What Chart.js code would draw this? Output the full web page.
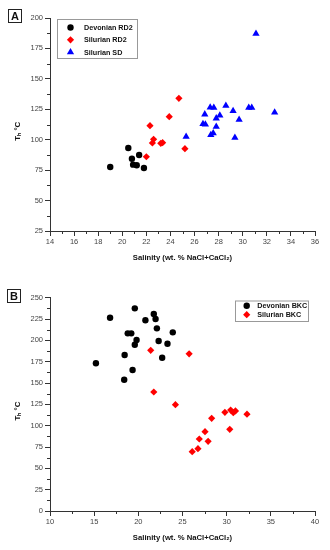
<!DOCTYPE html>
<html><head><meta charset="utf-8">
<script src="https://cdn.jsdelivr.net/npm/chart.js@4.4.0/dist/chart.umd.min.js"></script>
<style>
html,body{margin:0;padding:0;background:#fff;width:330px;height:550px;overflow:hidden}
.wrap{position:absolute;left:0;width:330px}
</style></head><body>
<div class="wrap" style="top:0;height:268px"><canvas id="cA"></canvas></div>
<div class="wrap" style="top:275px;height:275px"><canvas id="cB"></canvas></div>
<script>
// ---- Panel A data ----
const devRD2Sal = [19.0, 20.5, 20.8, 20.9, 21.2, 21.4, 21.8];
const devRD2T   = [77.6, 93.2, 84.4, 79.5, 79.0, 87.4, 76.7];
const silRD2Sal = [24.7, 23.9, 22.3, 22.6, 22.5, 23.2, 23.35, 22.0, 25.2];
const silRD2T   = [134.0, 118.9, 111.5, 100.3, 97.3, 97.0, 97.6, 86.0, 92.6];
const silSDSal  = [31.1, 27.3, 27.6, 28.6, 29.2, 30.5, 30.75, 32.65, 26.85, 28.1, 27.8, 29.7, 26.7, 26.9, 27.8, 27.55, 27.35, 29.35, 25.3];
const silSDT    = [187.1, 126.6, 126.3, 128.0, 123.6, 126.3, 126.3, 122.5, 120.9, 120.0, 117.6, 116.4, 112.9, 112.6, 110.7, 105.3, 103.9, 101.6, 102.5];
const xTicksA = [14, 16, 18, 20, 22, 24, 26, 28, 30, 32, 34, 36];
const yTicksA = [25, 50, 75, 100, 125, 150, 175, 200];
// ---- Panel B data ----
const devBKCSal = [15.2, 16.8, 19.6, 21.75, 21.95, 20.8, 22.1, 23.9, 18.8, 19.2, 19.8, 19.6, 22.3, 23.3, 18.45, 22.7, 19.35, 18.4];
const devBKCT   = [173.1, 226.5, 237.5, 230.9, 225.0, 223.5, 214.1, 209.4, 208.2, 208.2, 200.4, 194.9, 199.2, 196.1, 182.8, 179.7, 165.2, 153.9];
const silBKCSal = [21.4, 25.75, 21.75, 24.2, 29.8, 30.45, 30.75, 31.0, 32.3, 28.3, 30.35, 27.55, 26.9, 27.9, 26.75, 26.1];
const silBKCT   = [188.3, 184.2, 139.5, 124.6, 115.6, 118.3, 115.2, 117.3, 113.5, 108.6, 95.7, 93.0, 84.4, 81.7, 73.0, 69.5];
const xTicksB = [10, 15, 20, 25, 30, 35, 40];
const yTicksB = [0, 25, 50, 75, 100, 125, 150, 175, 200, 225, 250];

const xTitle = 'Salinity (wt. % NaCl+CaCl\u2082)';
const yTitle = 'T\u2095 \u00B0C\u00A0\u00A0\u00A0\u00A0\u00A0\u00A0';

function pts(xs, ys){ return xs.map((v,i)=>({x:v, y:ys[i]})); }

const FONT = '"Liberation Sans", Arial, sans-serif';
const AX = '#333';

function drawMarker(ctx, style, x, y, r, color){
  ctx.save(); ctx.fillStyle = color; ctx.beginPath();
  if (style === 'circle') { ctx.arc(x, y, r, 0, Math.PI*2); }
  else if (style === 'rectRot') { ctx.moveTo(x, y-r); ctx.lineTo(x+r, y); ctx.lineTo(x, y+r); ctx.lineTo(x-r, y); ctx.closePath(); }
  else if (style === 'triangle') { ctx.moveTo(x, y-r); ctx.lineTo(x+r*0.866, y+r*0.5); ctx.lineTo(x-r*0.866, y+r*0.5); ctx.closePath(); }
  ctx.fill(); ctx.restore();
}

const decor = {
  id: 'decor',
  afterDraw(chart, args, o){
    const ctx = chart.ctx, xs = chart.scales.x, ys = chart.scales.y;
    ctx.save();
    ctx.strokeStyle = AX; ctx.lineWidth = 1;
    // minor ticks
    for (let v = xs.min + o.xMinor; v < xs.max; v += o.xMinor*2) {
      const px = Math.round(xs.getPixelForValue(v)) + 0.5;
      ctx.beginPath(); ctx.moveTo(px, ys.bottom); ctx.lineTo(px, ys.bottom + 3); ctx.stroke();
    }
    for (let v = ys.min + o.yMinor; v < ys.max; v += o.yMinor*2) {
      const py = Math.round(ys.getPixelForValue(v)) + 0.5;
      ctx.beginPath(); ctx.moveTo(xs.left, py); ctx.lineTo(xs.left - 3, py); ctx.stroke();
    }
    // panel letter
    ctx.strokeStyle = '#222'; ctx.lineWidth = 1;
    ctx.strokeRect(o.lbl.x + 0.5, o.lbl.y + 0.5, 13, 13);
    ctx.fillStyle = '#111'; ctx.font = 'bold 11px ' + FONT;
    ctx.textAlign = 'center'; ctx.textBaseline = 'middle';
    ctx.fillText(o.lbl.text, o.lbl.x + 7, o.lbl.y + 7.5);
    // legend
    const L = o.legend;
    ctx.strokeStyle = '#999'; ctx.lineWidth = 1;
    ctx.strokeRect(L.x + 0.5, L.y + 0.5, L.w, L.h);
    ctx.font = 'bold 7.2px ' + FONT; ctx.textAlign = 'left'; ctx.fillStyle = '#111';
    chart.data.datasets.forEach((ds, i) => {
      const yy = L.y + L.first + i * L.gap;
      drawMarker(ctx, ds.pointStyle, L.x + L.mx, yy, ds.pointRadius, ds.backgroundColor);
      ctx.fillStyle = '#111';
      ctx.fillText(ds.label, L.x + L.tx, yy + 0.5);
    });
    ctx.restore();
  }
};

function makeOpts(xMin, xMax, xStep, yMin, yMax, yStep, xH, titleBottomPad, legendCfg, lbl, xMinor, yMinor, topPad){
  const tickFont = {family: FONT, size: 7.5};
  const gridCfg = {display: true, drawOnChartArea: false, drawTicks: true, tickLength: 5, color: AX, lineWidth: 1};
  return {
    responsive: true, maintainAspectRatio: false, animation: false,
    layout: {padding: {left: 0, right: 15, top: topPad, bottom: 0}},
    plugins: {legend: {display: false}, tooltip: {enabled: false}, decor: {xMinor, yMinor, legend: legendCfg, lbl}},
    scales: {
      x: {type: 'linear', min: xMin, max: xMax,
          ticks: {stepSize: xStep, font: tickFont, color: '#444', padding: 1, maxRotation: 0},
          grid: gridCfg, border: {display: true, color: AX, width: 1},
          title: {display: true, text: xTitle, font: {family: FONT, size: 7.7, weight: 'bold'}, color: '#111', padding: {top: 0, bottom: titleBottomPad}},
          afterFit: s => { s.height = xH; }},
      y: {type: 'linear', min: yMin, max: yMax,
          ticks: {stepSize: yStep, font: tickFont, color: '#444', padding: 2},
          grid: gridCfg, border: {display: true, color: AX, width: 1},
          title: {display: true, text: yTitle, font: {family: FONT, size: 8, weight: 'bold'}, color: '#111', padding: {top: 13, bottom: 0}},
          afterFit: s => { s.width = 50; }}
    }
  };
}

new Chart(document.getElementById('cA'), {
  type: 'scatter',
  data: {datasets: [
    {label: 'Devonian RD2', data: pts(devRD2Sal, devRD2T), pointStyle: 'circle', pointRadius: 3.2, backgroundColor: '#000000', borderWidth: 0},
    {label: 'Silurian RD2', data: pts(silRD2Sal, silRD2T), pointStyle: 'rectRot', pointRadius: 3.6, backgroundColor: '#ff0000', borderWidth: 0},
    {label: 'Silurian SD', data: pts(silSDSal, silSDT), pointStyle: 'triangle', pointRadius: 4.2, backgroundColor: '#0000ff', borderWidth: 0}
  ]},
  options: makeOpts(14, 36, 2, 25, 200, 25, 37, 5,
    {x: 57, y: 19, w: 80, h: 39, first: 8.5, gap: 12.3, mx: 13.5, tx: 27},
    {x: 8, y: 9, text: 'A'}, 1, 12.5, 18),
  plugins: [decor]
});

new Chart(document.getElementById('cB'), {
  type: 'scatter',
  data: {datasets: [
    {label: 'Devonian BKC', data: pts(devBKCSal, devBKCT), pointStyle: 'circle', pointRadius: 3.2, backgroundColor: '#000000', borderWidth: 0},
    {label: 'Silurian BKC', data: pts(silBKCSal, silBKCT), pointStyle: 'rectRot', pointRadius: 3.6, backgroundColor: '#ff0000', borderWidth: 0}
  ]},
  options: makeOpts(10, 40, 5, 0, 250, 25, 39, 7,
    {x: 235, y: 25.5, w: 73, h: 20.5, first: 5.2, gap: 9, mx: 11.7, tx: 22.3},
    {x: 7, y: 14, text: 'B'}, 2.5, 12.5, 22.7),
  plugins: [decor]
});
</script>
</body></html>
